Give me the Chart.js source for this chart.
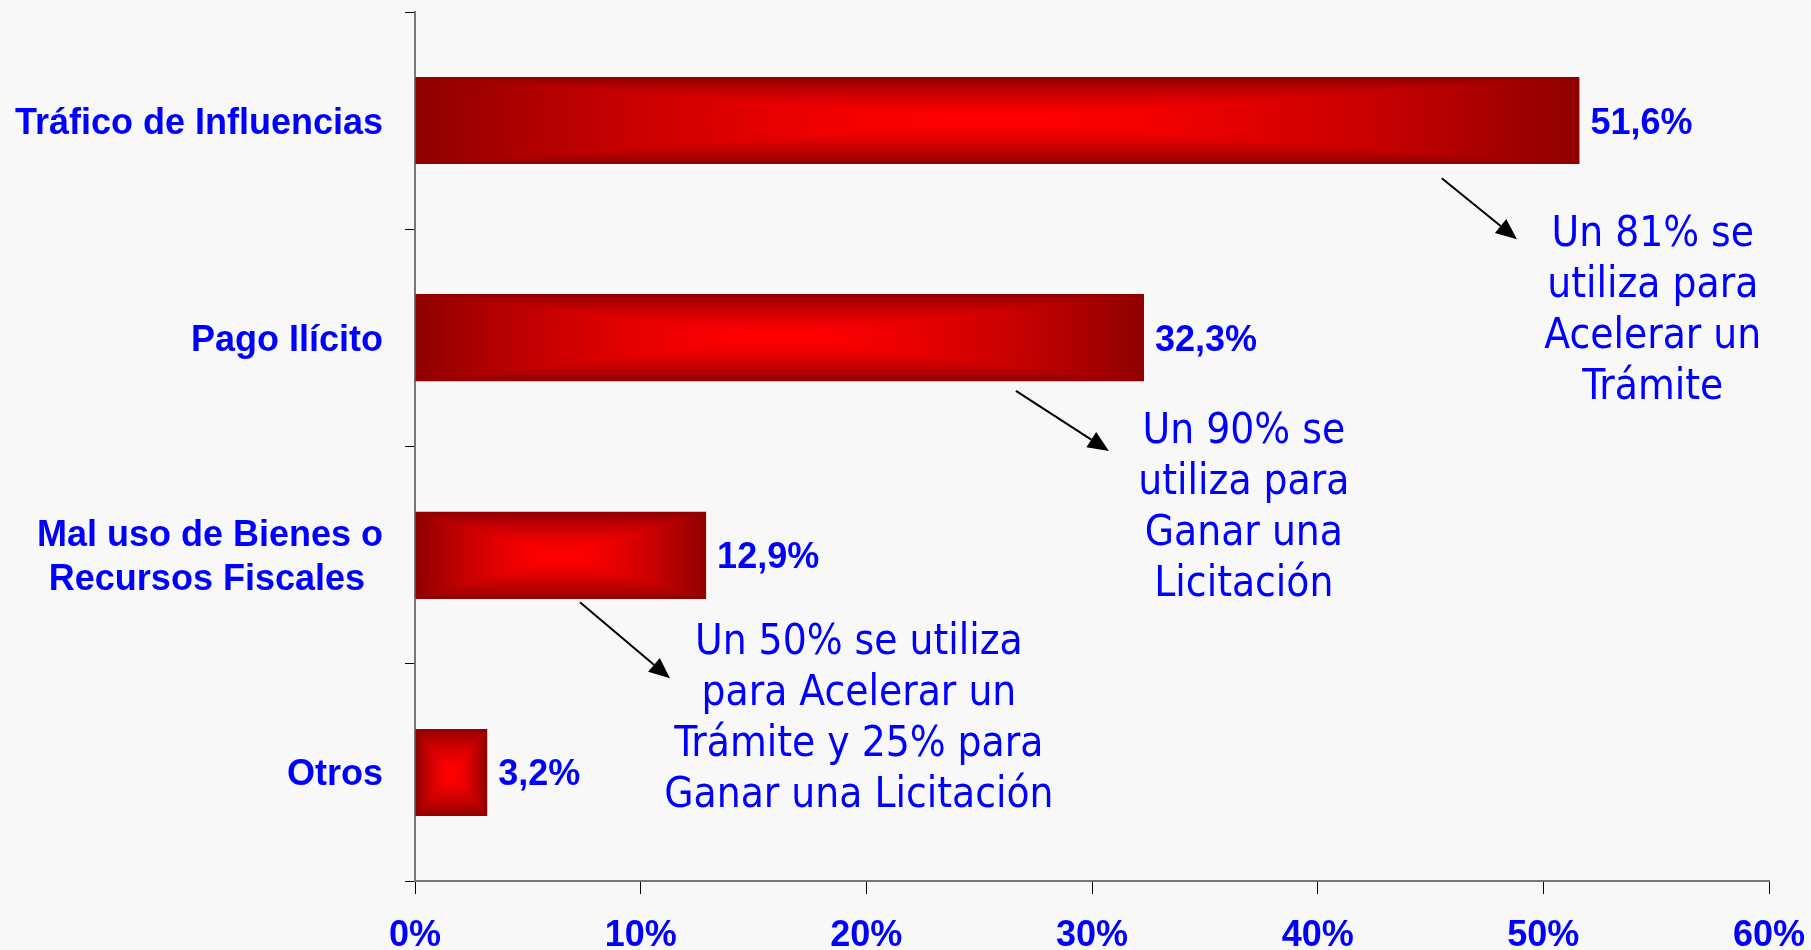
<!DOCTYPE html>
<html>
<head>
<meta charset="utf-8">
<script src="https://cdn.jsdelivr.net/npm/chart.js@4.4.0/dist/chart.umd.min.js"></script>
<style>
  html, body { margin: 0; padding: 0; background: #f8f8f8; }
  #wrap { width: 1811px; height: 950px; }
</style>
</head>
<body>
<div id="wrap"><canvas id="chart" width="1811" height="950"></canvas></div>
<script>
// data
const categories = ['Tráfico de Influencias', 'Pago Ilícito', ['Mal uso de Bienes o', 'Recursos Fiscales\u2002'], 'Otros'];
const shares = [51.6, 32.3, 12.9, 3.2];
const xTicks = [0, 10, 20, 30, 40, 50, 60];

// callouts: which bar, text lines, where text and arrow go (x in %, y in bar-band fractions)
const noteBars = [0, 1, 2];
const noteLines = [
    ['Un 81% se', 'utiliza para', 'Acelerar un', 'Trámite'],
    ['Un 90% se', 'utiliza para', 'Ganar una', 'Licitación'],
    ['Un 50% se utiliza', 'para Acelerar un', 'Trámite y 25% para', 'Ganar una Licitación']
];
const noteTextAt = [[54.85, 0.578], [36.73, 0.483], [19.67, 0.455]];
const arrowFrom = [[45.5, 0.265], [26.63, 0.244], [7.31, 0.217]];
const arrowTo = [[48.83, 0.546], [30.75, 0.521], [11.3, 0.567]];

const BLUE = '#0000ff';
const boldFont = { family: '"Liberation Sans", Arial, sans-serif', size: 36, weight: 'bold' };

// rectangular "from centre" gradient, like the office chart fill
const barFill = {
    id: 'barFill',
    afterDatasetsDraw(chart) {
        const ctx = chart.ctx;
        chart.getDatasetMeta(0).data.forEach(el => {
            const p = el.getProps(['x', 'y', 'base', 'height'], true);
            const left = Math.round(Math.min(p.base, p.x));
            const right = Math.round(Math.max(p.base, p.x));
            const top = Math.round(p.y - p.height / 2);
            const w = right - left, h = Math.round(p.height);
            if (w < 1 || h < 1) return;
            const off = document.createElement('canvas');
            off.width = w; off.height = h;
            const octx = off.getContext('2d');
            const img = octx.createImageData(w, h);
            const hw = w / 2, hh = h / 2;
            for (let j = 0; j < h; j++) {
                const dy = Math.abs(j + 0.5 - hh) / hh;
                for (let i = 0; i < w; i++) {
                    const dx = Math.abs(i + 0.5 - hw) / hw;
                    const t = Math.pow(Math.max(dx, dy), 1.6);
                    const k = (j * w + i) * 4;
                    img.data[k] = 255 - 113 * t;
                    img.data[k + 1] = 0;
                    img.data[k + 2] = 0;
                    img.data[k + 3] = 255;
                }
            }
            octx.putImageData(img, 0, 0);
            ctx.drawImage(off, left, top);
        });
    }
};

const valueLabels = {
    id: 'valueLabels',
    afterDatasetsDraw(chart) {
        const ctx = chart.ctx;
        ctx.save();
        ctx.font = 'bold 36px "Liberation Sans", Arial, sans-serif';
        ctx.fillStyle = BLUE;
        ctx.textAlign = 'left';
        ctx.textBaseline = 'middle';
        chart.getDatasetMeta(0).data.forEach((el, i) => {
            const txt = shares[i].toFixed(1).replace('.', ',') + '%';
            ctx.fillText(txt, el.x + 11, el.y + 3);
        });
        ctx.restore();
    }
};

const callouts = {
    id: 'callouts',
    afterDraw(chart) {
        const ctx = chart.ctx;
        const xs = chart.scales.x, ys = chart.scales.y;
        const band = ys.height / categories.length;
        const px = v => xs.getPixelForValue(v);
        const py = (i, f) => ys.getPixelForValue(i) + f * band;
        ctx.save();
        noteBars.forEach((b, n) => {
            // arrow
            const x1 = px(arrowFrom[n][0]), y1 = py(b, arrowFrom[n][1]);
            const x2 = px(arrowTo[n][0]), y2 = py(b, arrowTo[n][1]);
            const a = Math.atan2(y2 - y1, x2 - x1);
            const hl = 21, hwid = 9;
            ctx.strokeStyle = '#000';
            ctx.fillStyle = '#000';
            ctx.lineWidth = 2;
            ctx.beginPath();
            ctx.moveTo(x1, y1);
            ctx.lineTo(x2 - hl * Math.cos(a), y2 - hl * Math.sin(a));
            ctx.stroke();
            ctx.beginPath();
            ctx.moveTo(x2, y2);
            ctx.lineTo(x2 - hl * Math.cos(a) + hwid * Math.sin(a), y2 - hl * Math.sin(a) - hwid * Math.cos(a));
            ctx.lineTo(x2 - hl * Math.cos(a) - hwid * Math.sin(a), y2 - hl * Math.sin(a) + hwid * Math.cos(a));
            ctx.closePath();
            ctx.fill();
            // text
            ctx.font = '42px "DejaVu Sans Condensed", "DejaVu Sans", sans-serif';
            ctx.fillStyle = BLUE;
            ctx.textAlign = 'center';
            ctx.textBaseline = 'alphabetic';
            const tx = px(noteTextAt[n][0]);
            const ty = py(b, noteTextAt[n][1]);
            noteLines[n].forEach((line, k) => ctx.fillText(line, tx, ty + k * 51));
        });
        ctx.restore();
    }
};

// nudge the category labels down a little, as in the original
function shiftLabels(s, dy) {
    if (s._shifted) return;
    s._shifted = true;
    const orig = s.drawLabels;
    s.drawLabels = function (area) {
        this.ctx.save();
        this.ctx.translate(0, dy);
        orig.call(this, area);
        this.ctx.restore();
    };
}

new Chart(document.getElementById('chart'), {
    type: 'bar',
    data: {
        labels: categories,
        datasets: [{
            data: shares,
            backgroundColor: '#900000',
            borderWidth: 0,
            categoryPercentage: 1,
            barPercentage: 0.4
        }]
    },
    options: {
        indexAxis: 'y',
        responsive: false,
        animation: false,
        events: [],
        layout: { padding: { top: 12, right: 42, bottom: 0, left: 0 } },
        plugins: { legend: { display: false }, tooltip: { enabled: false } },
        scales: {
            x: {
                min: 0,
                max: 60,
                afterBuildTicks: s => { s.ticks = xTicks.map(v => ({ value: v })); },
                afterFit: s => { s.height = 69; s.paddingLeft = 0; s.paddingRight = 0; shiftLabels(s, 4); },
                border: { color: '#777777', width: 2 },
                grid: { drawOnChartArea: false, tickLength: 13, color: '#000', lineWidth: 1 },
                ticks: {
                    padding: 16,
                    color: BLUE,
                    font: boldFont,
                    maxRotation: 0,
                    callback: v => v + '%'
                }
            },
            y: {
                afterFit: s => { s.width = 415; s.paddingTop = 0; s.paddingBottom = 0; shiftLabels(s, 3); },
                border: { color: '#777777', width: 2 },
                grid: { drawOnChartArea: false, tickLength: 10, color: '#000', lineWidth: 1 },
                ticks: {
                    padding: 22,
                    color: BLUE,
                    font: Object.assign({ lineHeight: 1.22 }, boldFont)
                }
            }
        }
    },
    plugins: [barFill, valueLabels, callouts]
});
</script>
</body>
</html>
